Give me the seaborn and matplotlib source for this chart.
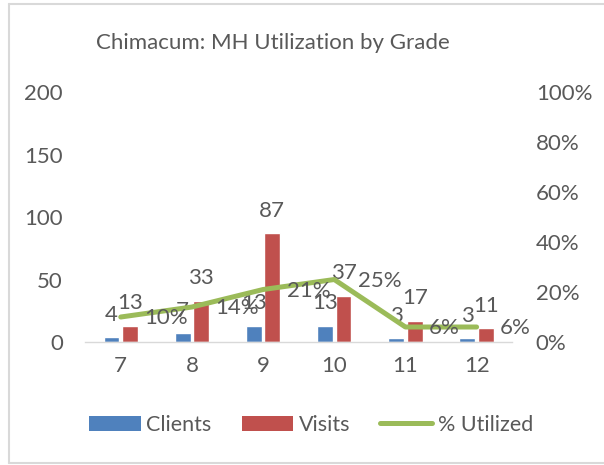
import matplotlib
matplotlib.use("Agg")
import matplotlib.pyplot as plt
import seaborn as sns
import numpy as np
import pandas as pd
from matplotlib.patches import Patch
from matplotlib.lines import Line2D
from matplotlib.ticker import PercentFormatter

grades = ["7", "8", "9", "10", "11", "12"]
clients = [4, 7, 13, 13, 3, 3]
visits = [13, 33, 87, 37, 17, 11]
pct_utilized = [0.10, 0.14, 0.21, 0.25, 0.06, 0.06]
pct_labels = ["10%", "14%", "21%", "25%", "6%", "6%"]

BLUE = "#4F81BD"
RED = "#C0504D"
GREEN = "#9BBB59"
TXT = "#595959"

sns.set_theme(style="white")
plt.rcParams['font.family'] = ['Lato', 'DejaVu Sans']

df = pd.DataFrame({
    "Grade": grades * 2,
    "Value": clients + visits,
    "Series": ["Clients"] * len(grades) + ["Visits"] * len(grades),
})

fig = plt.figure(figsize=(6.04, 4.65), dpi=100)
fig.patch.set_facecolor("white")
ax = fig.add_axes([0.141, 0.2645, 0.707, 0.5376])

sns.barplot(data=df, x="Grade", y="Value", hue="Series", order=grades,
            hue_order=["Clients", "Visits"], palette=[BLUE, RED],
            width=0.52, gap=0.15, ax=ax, legend=False, saturation=1)

ax.set_ylim(0, 200)
ax.set_yticks([0, 50, 100, 150, 200])
ax.set_xlim(-0.5, len(grades) - 0.5)
ax.set_xlabel("")
ax.set_ylabel("")
for s in ["top", "left", "right"]:
    ax.spines[s].set_visible(False)
ax.spines["bottom"].set_color("#D9D9D9")
ax.spines["bottom"].set_linewidth(1)
ax.tick_params(axis="both", length=0, labelsize=16, colors=TXT, pad=10)
ax.tick_params(axis="y", pad=16)

# data labels for bars
for cont in ax.containers:
    ax.bar_label(cont, fontsize=16, color=TXT, padding=9)

ax2 = ax.twinx()
xpos = np.arange(len(grades))
sns.lineplot(x=xpos, y=pct_utilized, color=GREEN, linewidth=3.6, ax=ax2,
             solid_capstyle="round", solid_joinstyle="round")
ax2.set_ylim(0, 1)
ax2.set_yticks([0, 0.2, 0.4, 0.6, 0.8, 1.0])
ax2.yaxis.set_major_formatter(PercentFormatter(1.0, decimals=0))
ax2.tick_params(axis="y", length=0, labelsize=16, colors=TXT, pad=17)
for s in ["top", "left", "right", "bottom"]:
    ax2.spines[s].set_visible(False)
ax2.set_xlim(-0.5, len(grades) - 0.5)

for x, y, lab in zip(xpos, pct_utilized, pct_labels):
    ax2.annotate(lab, (x, y), xytext=(17, -1), textcoords="offset points",
                 ha="left", va="center", fontsize=16, color=TXT)

fig.text(0.451, 0.908, "Chimacum: MH Utilization by Grade", ha="center",
         va="center", fontsize=16, color=TXT)

handles = [Patch(facecolor=BLUE, edgecolor="none"),
           Patch(facecolor=RED, edgecolor="none"),
           Line2D([0], [0], color=GREEN, linewidth=3.6, solid_capstyle="round")]
fig.legend(handles, ["Clients", "Visits", "% Utilized"], loc="center",
           bbox_to_anchor=(0.515, 0.086), ncol=3, frameon=False, fontsize=15.5,
           labelcolor=TXT, handlelength=2.4, handleheight=0.7,
           handletextpad=0.25, columnspacing=1.4)

# chart border (right side falls outside the image)
bx0, by0, by1 = 8.5 / 604, 1 - 463 / 465, 1 - 4.5 / 465
for xs, ys in [([bx0, 1.01], [by1, by1]), ([bx0, bx0], [by0, by1]),
               ([bx0, 1.01], [by0, by0])]:
    fig.add_artist(Line2D(xs, ys, transform=fig.transFigure,
                          color="#D9D9D9", linewidth=1.5))

fig.savefig("out.png", dpi=100)
